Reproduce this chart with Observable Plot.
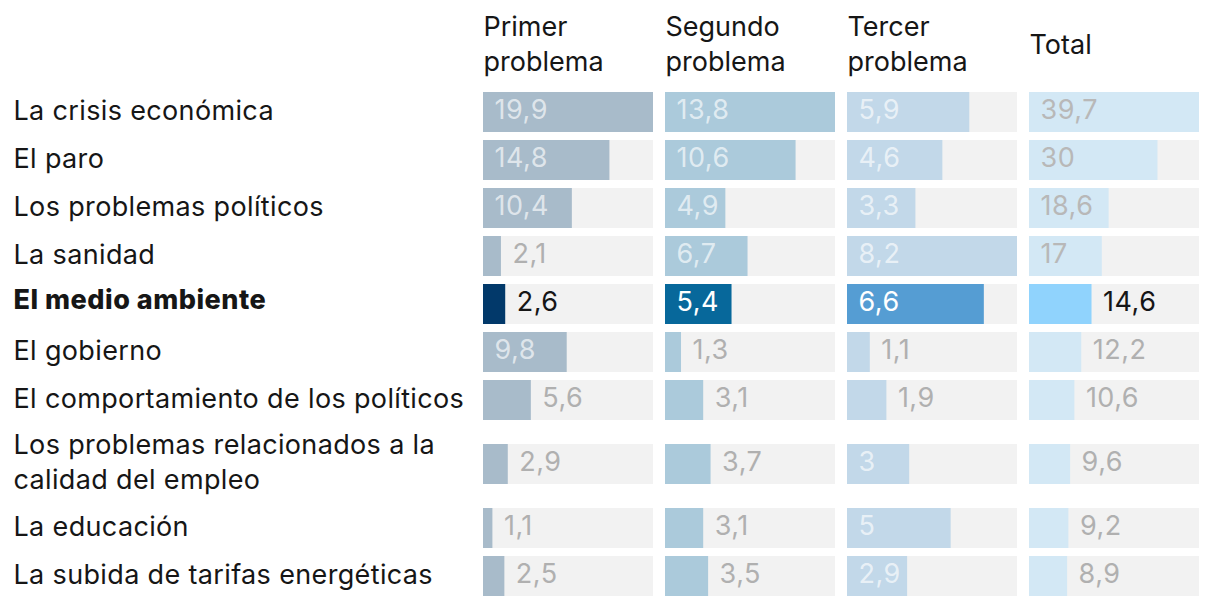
<!DOCTYPE html>
<html>
<head>
<meta charset="utf-8">
<script src="https://cdn.jsdelivr.net/npm/d3@7"></script>
<script src="https://cdn.jsdelivr.net/npm/@observablehq/plot@0.6"></script>
<style>
  html, body { margin: 0; padding: 0; background: #ffffff; }
  #chart { width: 1220px; height: 606px; }
  g[aria-description="row-labels"] text { letter-spacing: 0.35px; }
  g[aria-description="hl-label"] text { letter-spacing: 0.5px; }
  g[aria-description="values"] text, .measure text { font-variant-numeric: proportional-nums; letter-spacing: 0.5px; }
</style>
</head>
<body>
<div id="chart"></div>
<script>
// ---- Data ----
const categories = [
  "La crisis económica",
  "El paro",
  "Los problemas políticos",
  "La sanidad",
  "El medio ambiente",
  "El gobierno",
  "El comportamiento de los políticos",
  "Los problemas relacionados a la\ncalidad del empleo",
  "La educación",
  "La subida de tarifas energéticas"
];
const columns = ["Primer\nproblema", "Segundo\nproblema", "Tercer\nproblema", "Total"];
const primer  = [19.9, 14.8, 10.4, 2.1, 2.6, 9.8, 5.6, 2.9, 1.1, 2.5];
const segundo = [13.8, 10.6, 4.9, 6.7, 5.4, 1.3, 3.1, 3.7, 3.1, 3.5];
const tercer  = [5.9, 4.6, 3.3, 8.2, 6.6, 1.1, 1.9, 3, 5, 2.9];
const total   = [39.7, 30, 18.6, 17, 14.6, 12.2, 10.6, 9.6, 9.2, 8.9];
const highlighted = "El medio ambiente";

// ---- Style / layout ----
const W = 1220, H = 606;
const mL = 482, mR = 20, mT = 88, mB = 6;
const padIn = 12 / 182.5;
const lineStep = 32, rowPad = 16, barBand = 48;
const valueSize = 27;
const labelPad = 16.5;
const accent = ["#02396a", "#07689b", "#559dd3", "#90d3fd"];
const muted  = ["#a8bbca", "#abcadb", "#c2d8e9", "#d3e8f5"];
const trackColor = "#f2f2f2";
const ink = "#161616";

const series = [primer, segundo, tercer, total];

// rows layout (computed from label line counts)
let acc = 0;
const rows = categories.map((c, i) => {
  const lines = c.split("\n").length;
  const h = lines * lineStep + rowPad;
  const start = acc; acc += h;
  const b1 = start + (h - barBand) / 2;
  return {label: c, i, start, end: start + h, b1, b2: b1 + barBand, center: start + h / 2, hl: c === highlighted};
});
const totalH = acc;

const colWidth = (W - mL - mR) * (1 - padIn) / (columns.length - padIn);

// text measurement (same font settings as the value labels)
const svgNS = "http://www.w3.org/2000/svg";
const msvg = document.createElementNS(svgNS, "svg");
msvg.setAttribute("class", "measure");
msvg.style.position = "absolute"; msvg.style.left = "-9999px";
const mtext = document.createElementNS(svgNS, "text");
mtext.setAttribute("font-family", "Inter");
mtext.setAttribute("font-size", valueSize);
msvg.appendChild(mtext);
document.body.appendChild(msvg);
const measure = s => { mtext.textContent = s; return mtext.getComputedTextLength(); };

const fmt = v => String(v).replace(".", ",");
const cells = [];
columns.forEach((col, j) => {
  const vals = series[j];
  const mx = d3.max(vals);
  const lightBar = d3.lab(accent[j]).l > 70;
  vals.forEach((v, i) => {
    const r = rows[i];
    const frac = v / mx;
    const label = fmt(v);
    const w = measure(label);
    const inside = frac * colWidth - w >= labelPad;
    let tc;
    if (r.hl) tc = inside && !lightBar ? "#ffffff" : ink;
    else if (inside) tc = lightBar ? "#b8b8b8" : "rgba(255,255,255,0.65)";
    else tc = "#b0b0b0";
    cells.push({col, value: v, frac, label, inside, b1: r.b1, b2: r.b2, center: r.center,
      fill: r.hl ? accent[j] : muted[j], textFill: tc});
  });
});
msvg.remove();

const chart = Plot.plot({
  width: W,
  height: H,
  marginLeft: mL,
  marginRight: mR,
  marginTop: mT,
  marginBottom: mB,
  style: {fontFamily: "Inter, 'Liberation Sans', sans-serif", background: "#ffffff"},
  fx: {domain: columns, axis: null, paddingInner: padIn, paddingOuter: 0},
  x: {domain: [0, 1], axis: null},
  y: {type: "linear", domain: [0, totalH], range: [mT, H - mB], axis: null},
  marks: [
    Plot.rect(cells, {fx: "col", y1: "b1", y2: "b2", fill: trackColor, insetTop: 4, insetBottom: 4}),
    Plot.rect(cells, {fx: "col", x1: 0, x2: "frac", y1: "b1", y2: "b2", fill: "fill", insetTop: 4, insetBottom: 4}),
    Plot.text(cells, {fx: "col", x: d => d.inside ? 0 : d.frac, y: "center", text: "label",
      dx: 11, dy: -2, textAnchor: "start", lineAnchor: "middle", fill: "textFill", fontSize: valueSize,
      ariaDescription: "values"}),
    Plot.text(rows.filter(r => !r.hl), {fx: () => columns[0], y: "center", text: "label",
      frameAnchor: "left", textAnchor: "start", dx: -(mL - 12), dy: -4, lineAnchor: "middle",
      lineHeight: 1.3, fontSize: 27, fill: ink, ariaDescription: "row-labels"}),
    Plot.text(rows.filter(r => r.hl), {fx: () => columns[0], y: "center", text: "label",
      frameAnchor: "left", textAnchor: "start", dx: -(mL - 12), dy: -4, lineAnchor: "middle",
      fontSize: 27, fontWeight: 800, fill: ink, ariaDescription: "hl-label"}),
    Plot.text(columns, {fx: d => d, text: d => d, frameAnchor: "top-left", textAnchor: "start",
      lineAnchor: "middle", dy: -46, fontSize: 27, lineHeight: 1.3, fill: ink})
  ]
});
document.getElementById("chart").appendChild(chart);
</script>
</body>
</html>
